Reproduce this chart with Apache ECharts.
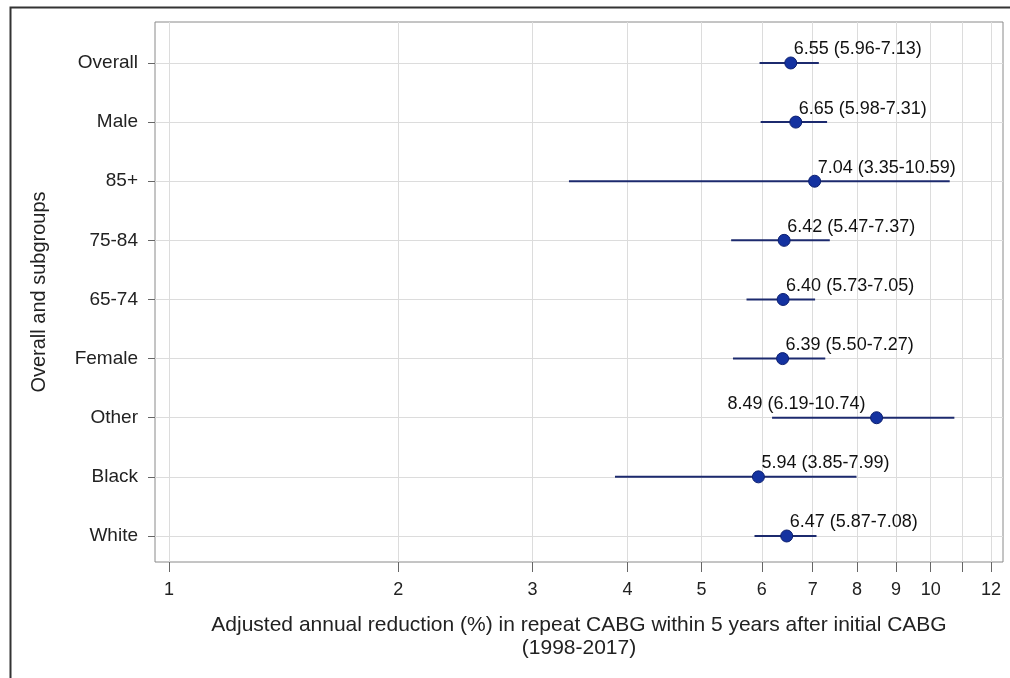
<!DOCTYPE html>
<html>
<head>
<meta charset="utf-8">
<script src="https://cdn.jsdelivr.net/npm/echarts@6/dist/echarts.min.js"></script>
<style>html,body{margin:0;padding:0;background:#fff}#c{width:1010px;height:678px}</style>
</head>
<body>
<div id="c"></div>
<script>
const categories = ['Overall', 'Male', '85+', '75-84', '65-74', 'Female', 'Other', 'Black', 'White'];
const estimates = [6.55, 6.65, 7.04, 6.42, 6.40, 6.39, 8.49, 5.94, 6.47];
const lowerCI   = [5.96, 5.98, 3.35, 5.47, 5.73, 5.50, 6.19, 3.85, 5.87];
const upperCI   = [7.13, 7.31, 10.59, 7.37, 7.05, 7.27, 10.74, 7.99, 7.08];
const tickValues  = [1, 2, 3, 4, 5, 6, 7, 8, 9, 10, 11, 12];
const labelValues = [1, 2, 3, 4, 5, 6, 7, 8, 9, 10, 12];
const xTitle = 'Adjusted annual reduction (%) in repeat CABG within 5 years after initial CABG\n(1998-2017)';
const yTitle = 'Overall and subgroups';

const FONT = 'Liberation Sans, Arial, sans-serif';
const ln = Math.log;

const pointData = categories.map((c, i) => {
  const flip = ln(estimates[i]) > 2.0;
  return {
    value: [ln(estimates[i]), i],
    label: flip ? { align: 'right', offset: [-11, 3] } : { align: 'left', offset: [3, 3] }
  };
});
const barData = categories.map((c, i) => [ln(lowerCI[i]), ln(upperCI[i]), i]);

const chart = echarts.init(document.getElementById('c'), null, { renderer: 'canvas' });
chart.setOption({
  animation: false,
  backgroundColor: '#fff',
  graphic: [{
    type: 'rect', left: 8, top: 5, z: 100,
    shape: { width: 1010, height: 700 },
    style: { fill: 'none', stroke: '#333', lineWidth: 2 }
  }],
  grid: { left: 155, top: 22, right: 7, bottom: 116, show: true, borderColor: '#8a8a8a', borderWidth: 1, backgroundColor: 'transparent' },
  xAxis: {
    type: 'value', min: -0.0423, max: 2.521,
    name: xTitle, nameLocation: 'middle', nameGap: 52,
    nameTextStyle: { fontFamily: FONT, fontSize: 21, color: '#222', lineHeight: 23 },
    axisLine: { show: false, onZero: false },
    axisTick: { show: true, length: 10, lineStyle: { color: '#666' }, customValues: tickValues.map(ln) },
    axisLabel: { customValues: labelValues.map(ln), formatter: v => String(Math.round(Math.exp(v))), fontFamily: FONT, fontSize: 18, color: '#222', margin: 19 },
    splitLine: { show: true, lineStyle: { color: '#dcdcdc', width: 1 } }
  },
  yAxis: {
    type: 'value', inverse: true, min: -0.693, max: 8.44,
    name: yTitle, nameLocation: 'middle', nameGap: 106, nameRotate: 90,
    nameTextStyle: { fontFamily: FONT, fontSize: 20, color: '#222' },
    axisLine: { show: false, onZero: false },
    axisTick: { show: true, length: 7, lineStyle: { color: '#666' }, customValues: categories.map((c, i) => i) },
    axisLabel: { customValues: categories.map((c, i) => i), formatter: v => categories[Math.round(v)], fontFamily: FONT, fontSize: 19, color: '#222', margin: 17 },
    splitLine: { show: true, lineStyle: { color: '#dcdcdc', width: 1 } }
  },
  series: [
    {
      type: 'custom',
      data: barData,
      renderItem: (params, api) => {
        const p1 = api.coord([api.value(0), api.value(2)]);
        const p2 = api.coord([api.value(1), api.value(2)]);
        return { type: 'line', shape: { x1: p1[0], y1: p1[1], x2: p2[0], y2: p2[1] }, style: { stroke: '#1c2a6e', lineWidth: 2 } };
      },
      z: 2
    },
    {
      type: 'scatter',
      data: pointData,
      symbol: 'circle', symbolSize: 12,
      itemStyle: { color: '#1432a0', borderColor: '#0c1f70', borderWidth: 1, opacity: 1 },
      label: { show: true, position: 'top', distance: 1, fontFamily: FONT, fontSize: 18, color: '#111',
        formatter: p => { const i = p.dataIndex; return `${estimates[i].toFixed(2)} (${lowerCI[i].toFixed(2)}-${upperCI[i].toFixed(2)})`; } },
      z: 3
    }
  ]
});
</script>
</body>
</html>
